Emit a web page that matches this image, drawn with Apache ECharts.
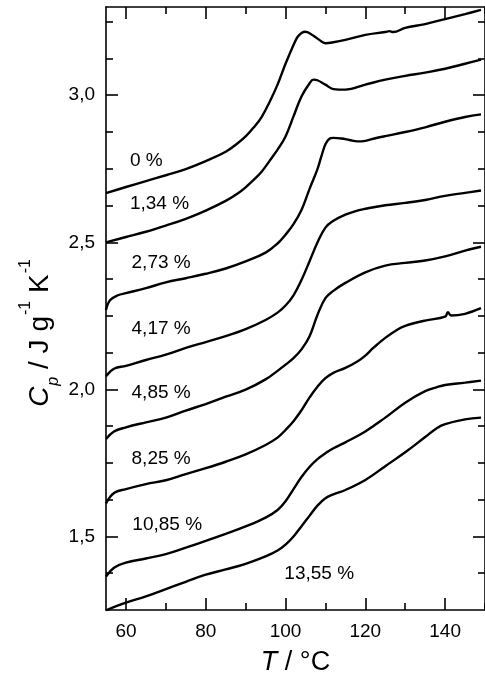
<!DOCTYPE html>
<html>
<head>
<meta charset="utf-8">
<script src="https://cdn.jsdelivr.net/npm/echarts@6/dist/echarts.min.js"></script>
<style>
  html, body { margin: 0; padding: 0; background: #fff; }
  #chart { width: 485px; height: 681px; }
</style>
</head>
<body>
<div id="chart"></div>
<script>
// curves: temperature (°C) and heat capacity (J g-1 K-1)
const t0 = [55,60,65,70,75,80,85,88,90,92,94,96,98,100,102,103,104,105,107,109,110,112,115,120,125,126,127,130,135,140,145,149]
const c0 = [2.667,2.688,2.708,2.728,2.749,2.776,2.808,2.837,2.860,2.890,2.926,2.977,3.036,3.107,3.171,3.198,3.212,3.216,3.202,3.183,3.177,3.180,3.188,3.205,3.215,3.218,3.215,3.229,3.242,3.259,3.276,3.290]

const t1 = [55,60,65,70,75,80,85,88,90,92,94,96,98,100,102,104,106,107,108,110,112,115,120,125,130,135,140,145,149]
const c1 = [2.500,2.518,2.536,2.557,2.580,2.608,2.641,2.666,2.687,2.712,2.740,2.777,2.815,2.860,2.928,2.996,3.040,3.053,3.051,3.036,3.021,3.019,3.036,3.053,3.066,3.077,3.090,3.107,3.121]

const t2 = [55,56,58,60,65,70,75,80,85,90,95,98,100,102,104,106,108,109,110,111,112,114,116,118,120,122,125,130,135,140,145,149]
const c2 = [2.270,2.303,2.320,2.327,2.344,2.364,2.378,2.393,2.411,2.435,2.465,2.496,2.526,2.562,2.610,2.681,2.749,2.793,2.833,2.852,2.855,2.853,2.848,2.843,2.845,2.852,2.861,2.875,2.891,2.910,2.926,2.935]

const t3 = [55,57,60,65,70,75,80,85,90,95,98,100,102,104,106,108,110,112,115,118,120,125,130,135,140,145,149]
const c3 = [2.045,2.070,2.080,2.100,2.118,2.141,2.161,2.181,2.205,2.236,2.261,2.285,2.320,2.372,2.435,2.499,2.550,2.573,2.594,2.608,2.614,2.626,2.634,2.644,2.658,2.668,2.676]

const t4 = [55,57,60,65,70,75,80,85,90,95,98,100,102,104,106,108,110,112,115,120,125,130,135,140,145,149]
const c4 = [1.831,1.857,1.871,1.888,1.904,1.928,1.950,1.975,1.999,2.034,2.063,2.084,2.106,2.136,2.180,2.253,2.310,2.335,2.362,2.398,2.421,2.430,2.438,2.452,2.472,2.485]

const t5 = [55,57,60,65,70,75,80,85,90,95,98,100,102,104,106,108,110,112,115,118,120,122,125,128,130,135,140,140.7,141.5,145,149]
const c5 = [1.612,1.648,1.661,1.678,1.691,1.712,1.732,1.754,1.779,1.811,1.836,1.862,1.892,1.929,1.972,2.009,2.038,2.056,2.073,2.095,2.115,2.141,2.175,2.203,2.216,2.234,2.247,2.262,2.251,2.257,2.276]

const t6 = [55,57,60,65,70,75,80,85,90,95,98,100,102,104,106,108,110,112,115,120,125,130,135,138,140,145,149]
const c6 = [1.364,1.394,1.411,1.425,1.440,1.462,1.485,1.509,1.534,1.564,1.590,1.620,1.661,1.702,1.736,1.763,1.783,1.800,1.820,1.857,1.904,1.955,1.994,2.008,2.015,2.023,2.030]

const t7 = [55,60,65,70,75,80,85,90,95,98,100,102,104,106,108,110,112,115,120,125,130,135,138,140,145,149]
const c7 = [1.249,1.275,1.296,1.321,1.346,1.370,1.388,1.407,1.432,1.452,1.472,1.500,1.535,1.570,1.605,1.630,1.643,1.658,1.692,1.739,1.786,1.838,1.869,1.882,1.898,1.904]

// concentration labels and where they sit (data units)
const labelNames = ['0 %', '1,34 %', '2,73 %', '4,17 %', '4,85 %', '8,25 %', '10,85 %', '13,55 %']
const labelT = [61.0, 61.0, 61.4, 61.4, 61.4, 61.4, 61.6, 99.7]
const labelCp = [2.778, 2.631, 2.429, 2.206, 1.990, 1.764, 1.541, 1.373]

// ticks
const xMajorTicks = [60, 80, 100, 120, 140]
const xMinorTicks = [70, 90, 110, 130, 150]
const yMajorTicks = [1.5, 2.0, 2.5, 3.0]
const yMinorTicks = [1.375, 1.625, 1.75, 1.875, 2.125, 2.25, 2.375, 2.625, 2.75, 2.875, 3.125, 3.25]

const FONT = '"Liberation Sans", Arial, sans-serif'
const curves = [[t0, c0], [t1, c1], [t2, c2], [t3, c3], [t4, c4], [t5, c5], [t6, c6], [t7, c7]]

const chart = echarts.init(document.getElementById('chart'), null, { renderer: 'canvas' })

const lineAxis = { show: true, lineStyle: { color: '#000', width: 1.6 } }
const noLine = { show: false }

// one axis with long ticks + labels, one with short ticks only, per side
const xAxisBase = { type: 'value', min: 55, max: 150, splitLine: { show: false } }
const yAxisBase = { type: 'value', min: 1.25, max: 3.3, splitLine: { show: false } }

const xAxes = [
  {
    ...xAxisBase,
    position: 'bottom',
    axisLine: lineAxis,
    axisTick: { inside: true, length: 12, customValues: xMajorTicks, lineStyle: { color: '#000', width: 1.6 } },
    axisLabel: { customValues: xMajorTicks, color: '#000', fontSize: 19, fontFamily: FONT, margin: 12 },
    name: '{i|T}{n| / °C}',
    nameLocation: 'middle',
    nameGap: 39,
    nameTextStyle: {
      rich: {
        i: { fontSize: 27, fontStyle: 'italic', fontFamily: FONT, color: '#000' },
        n: { fontSize: 27, fontFamily: FONT, color: '#000' }
      }
    }
  },
  {
    ...xAxisBase,
    position: 'bottom',
    axisLine: noLine,
    axisTick: { inside: true, length: 7, customValues: xMinorTicks, lineStyle: { color: '#000', width: 1.6 } },
    axisLabel: { show: false }
  },
  {
    ...xAxisBase,
    position: 'top',
    axisLine: lineAxis,
    axisTick: { inside: true, length: 12, customValues: xMajorTicks, lineStyle: { color: '#000', width: 1.6 } },
    axisLabel: { show: false }
  },
  {
    ...xAxisBase,
    position: 'top',
    axisLine: noLine,
    axisTick: { inside: true, length: 7, customValues: xMinorTicks, lineStyle: { color: '#000', width: 1.6 } },
    axisLabel: { show: false }
  }
]

const yAxes = [
  {
    ...yAxisBase,
    position: 'left',
    axisLine: lineAxis,
    axisTick: { inside: true, length: 12, customValues: yMajorTicks, lineStyle: { color: '#000', width: 1.6 } },
    axisLabel: {
      customValues: yMajorTicks,
      color: '#000',
      fontSize: 19,
      fontFamily: FONT,
      margin: 11,
      formatter: (v) => v.toFixed(1).replace('.', ',')
    }
  },
  {
    ...yAxisBase,
    position: 'left',
    axisLine: noLine,
    axisTick: { inside: true, length: 7, customValues: yMinorTicks, lineStyle: { color: '#000', width: 1.6 } },
    axisLabel: { show: false }
  },
  {
    ...yAxisBase,
    position: 'right',
    axisLine: lineAxis,
    axisTick: { inside: true, length: 12, customValues: yMajorTicks, lineStyle: { color: '#000', width: 1.6 } },
    axisLabel: { show: false }
  },
  {
    ...yAxisBase,
    position: 'right',
    axisLine: noLine,
    axisTick: { inside: true, length: 7, customValues: yMinorTicks, lineStyle: { color: '#000', width: 1.6 } },
    axisLabel: { show: false }
  }
]

const lineSeries = curves.map(([ts, cs], i) => ({
  name: labelNames[i],
  type: 'line',
  xAxisIndex: 0,
  yAxisIndex: 0,
  data: ts.map((t, k) => [t, cs[k]]),
  showSymbol: false,
  smooth: 0.4,
  lineStyle: { color: '#000', width: 2.4 },
  silent: true
}))

const labelSeries = {
  type: 'scatter',
  xAxisIndex: 0,
  yAxisIndex: 0,
  symbolSize: 0,
  silent: true,
  itemStyle: { opacity: 1 },
  data: labelNames.map((n, i) => ({ name: n, value: [labelT[i], labelCp[i]] })),
  label: {
    show: true,
    position: 'right',
    distance: 0,
    formatter: (p) => p.name,
    color: '#000',
    opacity: 1,
    fontSize: 19,
    fontFamily: FONT
  }
}

chart.setOption({
  animation: false,
  backgroundColor: '#fff',
  grid: { left: 106, right: -5, top: 7, bottom: 67, containLabel: false },
  xAxis: xAxes,
  yAxis: yAxes,
  graphic: [
    {
      type: 'text',
      x: 32,
      y: 333,
      rotation: Math.PI / 2,
      style: {
        text: '{c|C}{sub|p}{n| / J g}{sup|-1}{n| K}{sup|-1}',
        align: 'center',
        verticalAlign: 'middle',
        rich: {
          c: { fontSize: 28, lineHeight: 28, fontStyle: 'italic', fontFamily: FONT, fill: '#000', verticalAlign: 'top', padding: [8, 0, 0, 0] },
          n: { fontSize: 28, lineHeight: 28, fontFamily: FONT, fill: '#000', verticalAlign: 'top', padding: [8, 0, 0, 0] },
          sub: { fontSize: 16, lineHeight: 16, fontStyle: 'italic', fontFamily: FONT, fill: '#000', verticalAlign: 'top', padding: [28, 0, 0, 1] },
          sup: { fontSize: 16, lineHeight: 16, fontFamily: FONT, fill: '#000', verticalAlign: 'top', padding: [0, 0, 0, 1] }
        }
      }
    }
  ],
  series: [...lineSeries, labelSeries]
})
</script>
</body>
</html>
